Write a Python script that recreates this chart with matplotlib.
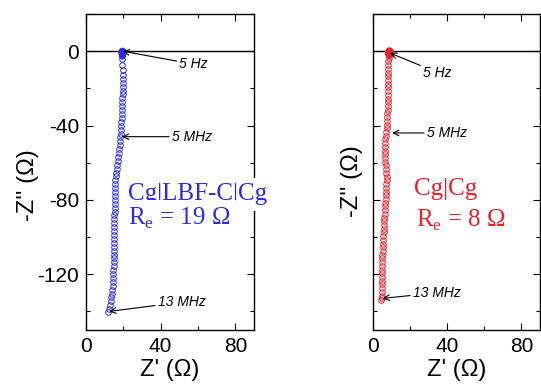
import numpy as np
import matplotlib
matplotlib.use("Agg")
import matplotlib.pyplot as plt
from matplotlib.ticker import MultipleLocator

# Cg|LBF-C|Cg impedance (Z', -Z'')
blue_x = [19.4, 19.5, 19.3, 19.4, 19.3, 19.2, 19.3, 19.5, 19.6, 19.7,
          19.8, 19.8, 19.7, 19.7, 19.6, 19.5, 19.5, 19.4, 19.4, 19.3,
          19.2, 19.0, 18.9, 18.7, 18.5, 18.3, 18.2, 18.0, 17.8, 17.6,
          17.4, 17.1, 16.8, 16.5, 16.2, 16.0, 15.8, 15.7, 15.6, 15.5,
          15.4, 15.5, 15.6, 15.5, 15.3, 15.2, 15.1, 15.0, 15.0, 15.1,
          15.2, 15.2, 15.1, 15.0, 15.0, 14.9, 14.9, 14.8, 14.8, 14.7,
          14.6, 14.5, 14.4, 14.3, 14.1, 13.8, 13.5, 13.2, 12.8, 12.4,
          12.0]
blue_y = [0.0, -0.4, -0.8, -1.3, -2.0, -2.8, -4.2, -7.5, -10.2, -12.6,
          -14.8, -17.0, -19.1, -21.2, -23.3, -25.4, -27.5, -29.6, -31.7, -33.8,
          -35.9, -38.0, -40.1, -42.2, -44.3, -46.4, -48.5, -50.6, -52.7, -54.8,
          -56.9, -59.0, -61.1, -63.2, -65.3, -67.4, -69.5, -71.6, -73.7, -75.8,
          -77.9, -80.0, -82.1, -84.2, -86.3, -88.4, -90.5, -92.6, -94.7, -96.8,
          -98.9, -101.0, -103.1, -105.2, -107.3, -109.4, -111.5, -113.6, -115.7, -117.8,
          -119.9, -122.0, -124.1, -126.2, -128.3, -130.4, -132.5, -134.6, -136.7, -138.6,
          -140.2]

# Cg|Cg
red_x = [8.6, 8.7, 8.5, 8.6, 8.4, 8.5, 8.4, 8.3, 8.3, 8.2,
         8.2, 8.3, 8.2, 8.2, 8.1, 8.2, 8.1, 8.0, 8.0, 7.9,
         7.9, 7.8, 7.8, 7.6, 7.5, 7.3, 7.1, 6.9, 6.7, 6.6,
         6.5, 6.4, 6.4, 6.5, 6.7, 6.9, 7.1, 7.2, 7.3, 7.3,
         7.2, 7.1, 7.0, 6.9, 6.8, 6.7, 6.6, 6.5, 6.3, 6.1,
         6.0, 5.9, 5.8, 5.7, 5.6, 5.5, 5.4, 5.3, 5.2, 5.1,
         5.0, 4.9, 4.9, 4.9, 4.8, 4.8, 4.8, 4.8, 4.7, 4.7,
         4.6, 4.6, 4.5]
red_y = [0.0, -0.3, -0.6, -1.0, -1.5, -2.2, -3.5, -5.5, -7.5, -9.5,
         -11.5, -13.5, -15.5, -17.5, -19.5, -21.5, -23.5, -25.5, -27.5, -29.5,
         -31.5, -33.5, -35.5, -37.5, -39.5, -41.5, -43.5, -45.5, -47.5, -49.5,
         -51.5, -53.5, -55.5, -57.5, -59.5, -61.5, -63.5, -65.5, -67.5, -69.5,
         -71.5, -73.5, -75.5, -77.5, -79.5, -81.5, -83.5, -85.5, -87.5, -89.5,
         -91.5, -93.5, -95.5, -97.5, -99.5, -101.5, -103.5, -105.5, -107.5, -109.5,
         -111.5, -113.5, -115.5, -117.5, -119.5, -121.5, -123.5, -125.5, -127.5, -129.5,
         -131.5, -133.0, -134.0]

blue_labels = ["5 Hz", "5 MHz", "13 MHz"]
blue_points = [(19.6, 0.0), (19.3, -46.0), (12.4, -140.0)]
blue_text_at = [(50.0, -7.0), (46.0, -46.0), (38.5, -135.0)]

red_labels = ["5 Hz", "5 MHz", "13 MHz"]
red_points = [(9.2, -1.0), (10.3, -44.0), (5.2, -133.0)]
red_text_at = [(27.0, -11.5), (29.0, -44.0), (21.5, -130.0)]

BLUE = "#2b2be6"
RED = "#e8202a"

plt.rcParams["font.family"] = ["Liberation Sans", "DejaVu Sans"]
plt.rcParams["axes.unicode_minus"] = False
plt.rcParams["mathtext.fontset"] = "custom"
plt.rcParams["mathtext.rm"] = "Liberation Serif"

fig = plt.figure(figsize=(5.41, 3.85), dpi=100)
ax1 = fig.add_axes([86 / 541, 55 / 385, 168 / 541, 316 / 385])
ax2 = fig.add_axes([373 / 541, 55 / 385, 167 / 541, 316 / 385])


def style(ax, show_ylabels):
    ax.set_xlim(0, 90)
    ax.set_ylim(-150, 20)
    ax.axhline(0, color="black", lw=1.0, zorder=1)
    ax.xaxis.set_major_locator(MultipleLocator(40))
    ax.xaxis.set_minor_locator(MultipleLocator(20))
    ax.yaxis.set_major_locator(MultipleLocator(40))
    ax.yaxis.set_minor_locator(MultipleLocator(20))
    ax.tick_params(which="both", direction="in", top=True, right=True,
                   labelsize=15, width=0.8)
    ax.tick_params(which="major", length=5, pad=5)
    ax.tick_params(which="minor", length=3)
    if not show_ylabels:
        ax.tick_params(axis="y", labelleft=False)
    for s in ax.spines.values():
        s.set_linewidth(1.0)
    ax.set_xlabel("Z' (Ω)", fontsize=17, labelpad=2)
    ax.set_ylabel("-Z'' (Ω)", fontsize=17)


style(ax1, True)
style(ax2, False)
ax1.yaxis.set_label_coords(-0.28, 0.46)
ax2.yaxis.set_label_coords(-0.06, 0.47)

ax1.plot(blue_x, blue_y, "o", mfc="none", mec=BLUE, ms=4, mew=0.7, zorder=2)
ax1.plot(blue_x[:4], blue_y[:4], "o", color=BLUE, ms=4.5, zorder=2)
ax2.plot(red_x, red_y, "o", mfc="none", mec=RED, ms=4, mew=0.7, zorder=2)
ax2.plot(red_x[:5], red_y[:5], "o", color=RED, ms=5, zorder=2)

for ax, labels, pts, tpos in [(ax1, blue_labels, blue_points, blue_text_at),
                              (ax2, red_labels, red_points, red_text_at)]:
    for lab, p, t in zip(labels, pts, tpos):
        ax.annotate(lab, xy=p, xytext=t, fontsize=10, style="italic",
                    ha="left", va="center",
                    arrowprops=dict(arrowstyle="->", color="black", lw=0.8,
                                    shrinkA=0, shrinkB=0))

serif = ["Liberation Serif", "DejaVu Serif"]
box = dict(facecolor="white", edgecolor="none", pad=4)
ax1.text(22.5, -77, "Cg|LBF-C|Cg", color=BLUE, fontsize=18, family=serif,
         va="center", ha="left", bbox=box, zorder=5)
ax1.text(22.5, -90, r"R$_{\mathregular{e}}$ = 19 Ω", color=BLUE, fontsize=18,
         family=serif, va="center", ha="left", bbox=box, zorder=5)
ax2.text(22, -74, "Cg|Cg", color=RED, fontsize=18, family=serif,
         va="center", ha="left", zorder=5)
ax2.text(23, -91, r"R$_{\mathregular{e}}$ = 8 Ω", color=RED, fontsize=18,
         family=serif, va="center", ha="left", zorder=5)

fig.savefig("out.png", dpi=100)
